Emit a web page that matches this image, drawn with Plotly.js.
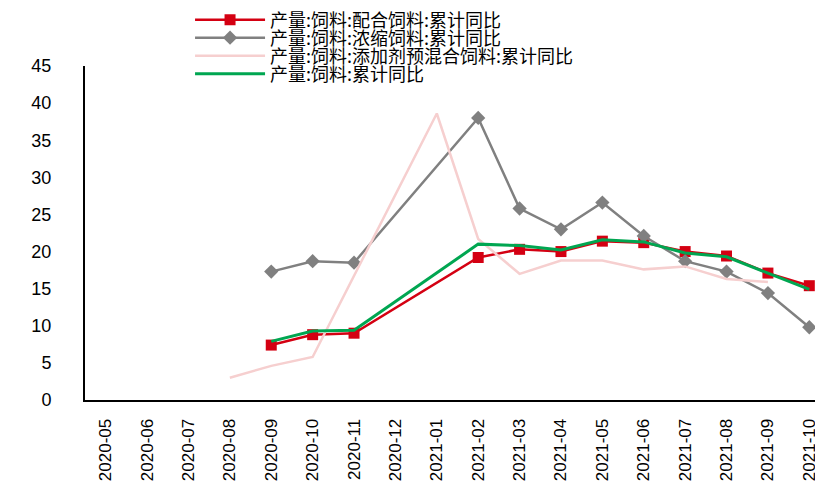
<!DOCTYPE html>
<html>
<head>
<meta charset="utf-8">
<script src="https://cdn.plot.ly/plotly-3.0.1.min.js"></script>
<style>
html, body { margin: 0; padding: 0; width: 815px; height: 490px; overflow: hidden; background: #fff; }
#chart { width: 840px; height: 490px; }
</style>
</head>
<body>
<div id="chart"></div>
<script>
const months = ["2020-05","2020-06","2020-07","2020-08","2020-09","2020-10","2020-11","2020-12",
                "2021-01","2021-02","2021-03","2021-04","2021-05","2021-06","2021-07","2021-08","2021-09","2021-10"];

const nameCompound = "产量:饲料:配合饲料:累计同比";
const nameConcentrate = "产量:饲料:浓缩饲料:累计同比";
const namePremix = "产量:饲料:添加剂预混合饲料:累计同比";
const nameTotal = "产量:饲料:累计同比";

const compound    = [null, null, null, null, 7.4, 8.8, 9.0, null, null, 19.2, 20.3, 20.0, 21.4, 21.2, 20.0, 19.4, 17.1, 15.4];
const concentrate = [null, null, null, null, 17.3, 18.7, 18.5, null, null, 38.0, 25.8, 23.0, 26.6, 22.1, 18.7, 17.3, 14.4, 9.8];
const premix      = [null, null, null, 3.0, 4.6, 5.8, null, null, 38.6, 21.7, 17.0, 18.8, 18.8, 17.6, 18.0, 16.3, 15.9, null];
const total       = [null, null, null, null, 7.9, 9.3, 9.4, null, null, 21.0, 20.8, 20.2, 21.6, 21.3, 19.8, 19.3, 17.1, 14.9];

const traces = [
  { x: months, y: compound, name: nameCompound, type: "scatter", mode: "lines+markers", connectgaps: true,
    line: { color: "#D40012", width: 2.5 }, marker: { symbol: "square", size: 11, color: "#D40012" }, legend: "legend" },
  { x: months, y: concentrate, name: nameConcentrate, type: "scatter", mode: "lines+markers", connectgaps: true,
    line: { color: "#808080", width: 2.5 }, marker: { symbol: "diamond", size: 11, color: "#808080" }, legend: "legend2" },
  { x: months, y: premix, name: namePremix, type: "scatter", mode: "lines", connectgaps: true,
    line: { color: "#F6CFCF", width: 2.5 }, legend: "legend3" },
  { x: months, y: total, name: nameTotal, type: "scatter", mode: "lines", connectgaps: true,
    line: { color: "#00A651", width: 3 }, legend: "legend4" }
];

const legFont = { family: "Noto Sans CJK SC, sans-serif", size: 18, color: "#000" };
function leg(ypix) {
  return { x: 0.141, xanchor: "left", y: (400 - ypix) / 334, yanchor: "middle",
           bgcolor: "rgba(0,0,0,0)", borderwidth: 0, font: legFont, itemwidth: 70, itemclick: false };
}

const layout = {
  width: 840, height: 490,
  margin: { l: 85, r: 10, t: 66, b: 90, autoexpand: false },
  paper_bgcolor: "#fff", plot_bgcolor: "#fff",
  showlegend: true,
  legend: leg(20), legend2: leg(38), legend3: leg(56), legend4: leg(74),
  xaxis: {
    type: "category", range: [-0.5, 17.5], tickangle: -90,
    showgrid: false, zeroline: false, showline: true, linecolor: "#000", linewidth: 2,
    ticks: "", ticklabelstandoff: 10,
    tickfont: { family: "Liberation Sans, Arial, sans-serif", size: 17, color: "#000" }
  },
  yaxis: {
    range: [0, 45], tickvals: [0,5,10,15,20,25,30,35,40,45],
    showgrid: false, zeroline: false, showline: true, linecolor: "#000", linewidth: 2,
    ticks: "", ticklabelstandoff: 28,
    tickfont: { family: "Liberation Sans, Arial, sans-serif", size: 18, color: "#000" }
  }
};

Plotly.newPlot("chart", traces, layout, { displayModeBar: false, staticPlot: true });
</script>
</body>
</html>
